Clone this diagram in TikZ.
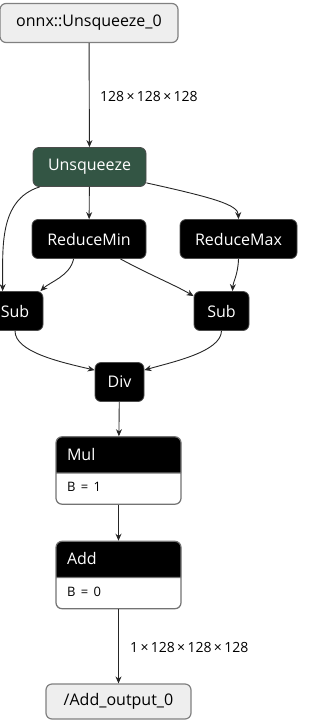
\documentclass[tikz,border=0pt]{standalone}
\usepackage{fontspec}
\setmainfont{Open Sans}
\usetikzlibrary{arrows.meta,positioning,shapes.multipart}
\definecolor{iofill}{HTML}{EEEEEE}
\definecolor{transformgreen}{HTML}{335544}
\newcommand{\by}{\,×\,}
\tikzset{
    io/.style={draw=black!50, fill=iofill, rounded corners=6pt, line width=1.2pt,
        minimum height=39pt, inner xsep=8pt, font=\fontsize{16}{16}\selectfont},
    op/.style={draw=black!70, fill=black, text=white, rounded corners=6pt,
        line width=0.8pt, minimum height=39pt, inner xsep=8pt,
        font=\fontsize{16}{16}\selectfont},
    transform/.style={op, fill=transformgreen},
    attrop/.style={rectangle split, rectangle split parts=2,
        rectangle split part fill={black,white}, rectangle split part align=left,
        draw=black!55, line width=1.2pt, rounded corners=6pt, text width=103pt,
        inner xsep=11pt, inner ysep=8pt, font=\fontsize{16}{16}\selectfont},
    shapelabel/.style={anchor=west, inner sep=0pt, font=\fontsize{14}{14}\selectfont},
    link/.style={draw=black!85, line width=0.9pt,
        -{Stealth[length=7pt, width=6pt]}},
    x=1pt, y=1pt
}

\begin{document}
\begin{tikzpicture}

        \useasboundingbox (0,0) rectangle (333,-721);

        \node[io, minimum width=178pt] (in) at (89,-23) {onnx::Unsqueeze\_0};
        \node[transform, minimum width=113pt] (Unsq) at (89.5,-167) {Unsqueeze};
        \node[op, minimum width=114pt] (RMin) at (89,-239) {ReduceMin};
        \node[op, minimum width=117pt] (RMax) at (238.5,-239) {ReduceMax};
        \node[op, minimum width=56pt] (SubA) at (15,-311) {Sub};
        \node[op, minimum width=55pt] (SubB) at (221.5,-311) {Sub};
        \node[op, minimum width=49pt] (Div) at (119.5,-382) {Div};
        \node[attrop] (Mul) at (118.5,-470.5)
            {\textcolor{white}{\rule[-4pt]{0pt}{19pt}Mul}
             \nodepart{second}{\fontsize{13}{13}\selectfont\rule[-4pt]{0pt}{14pt}B = 1}};
        \node[attrop] (Add) at (118.5,-575)
            {\textcolor{white}{\rule[-4pt]{0pt}{19pt}Add}
             \nodepart{second}{\fontsize{13}{13}\selectfont\rule[-4pt]{0pt}{14pt}B = 0}};
        \node[io, minimum width=145pt, minimum height=35pt] (out) at (118.5,-701.5)
            {/Add\_output\_0};

        \node[shapelabel] (s1) at (100,-96) {128\by128\by128};
        \node[shapelabel] (s2) at (130,-647) {1\by128\by128\by128};

        \draw[link] (in) -- (Unsq);
        \draw[link] (Unsq) -- (RMin);
        \draw[link] ([xshift=7pt]Unsq.south west)
            .. controls (-2,-200) and (3,-250) .. ([xshift=16pt]SubA.north west);
        \draw[link] ([yshift=4pt]Unsq.south east)
            .. controls (215,-198) and (238,-205) .. (RMax.north);
        \draw[link] ([xshift=42pt]RMin.south west)
            .. controls (70,-276) and (50,-282) .. ([xshift=-3pt]SubA.north east);
        \draw[link] ([xshift=-26pt]RMin.south east)
            .. controls (150,-275) and (175,-285) .. ([yshift=-5pt]SubB.north west);
        \draw[link] (RMax.south) .. controls (238,-275) and (233,-282) .. ([xshift=11pt]SubB.north);
        \draw[link] (SubA.south) .. controls (15,-352) and (60,-362) .. ([yshift=-8pt]Div.north west);
        \draw[link] (SubB.south) .. controls (221,-352) and (172,-362) .. ([yshift=-8pt]Div.north east);
        \draw[link] (Div) -- (Mul);
        \draw[link] (Mul) -- (Add);
        \draw[link] (Add) -- (out);

    \end{tikzpicture}
\end{document}
